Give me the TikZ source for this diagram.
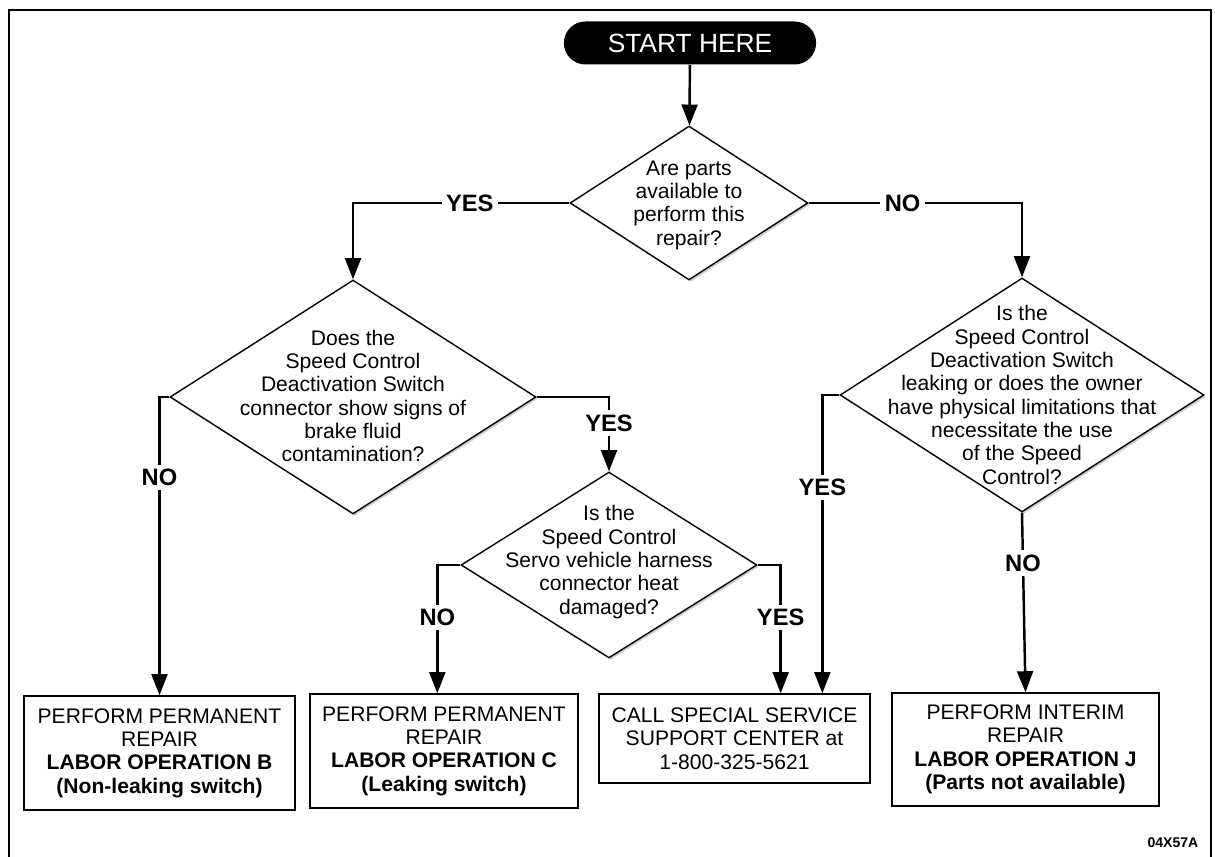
\documentclass[tikz,border=0pt]{standalone}
\usepackage{fontspec}
\setmainfont{Liberation Sans}
\usetikzlibrary{arrows.meta,shapes.geometric,shapes.misc,shadows}
\tikzset{
  decision/.style={diamond, draw, line width=0.8pt, fill=white, inner sep=0pt,
    drop shadow={shadow xshift=1.1pt, shadow yshift=-1.1pt, fill=gray!75}},
  qtext/.style={align=center, inner sep=0pt, font=\fontsize{12}{13.3}\selectfont},
  result/.style={rectangle, draw, line width=0.8pt, fill=white, align=center, inner sep=0pt,
    font=\fontsize{12}{13.3}\selectfont,
    drop shadow={shadow xshift=0.8pt, shadow yshift=-0.8pt, fill=gray!75}},
  flow/.style={line width=1.4pt, -{Triangle[length=12pt,width=9pt]}},
  answer/.style={fill=white, inner sep=2.5pt, font=\fontsize{13.5}{14}\selectfont\bfseries}
}
\begin{document}
\begin{tikzpicture}[x=0.02cm, y=-0.02cm]
        \useasboundingbox (0,0) rectangle (1215,857);
        \draw[line width=0.6pt] (9,857) -- (9,10) -- (1211,10) -- (1211,857);

        \node[rounded rectangle, fill=black, text=white, minimum width=5.28cm, minimum height=0.86cm,
              font=\fontsize{15}{16}\selectfont] (start) at (690,43) {START HERE};

        \node[decision, minimum width=4.76cm, minimum height=3.08cm] (parts) at (689,203) {};
        \node[qtext] (partstxt) at (689,205) {Are parts\\available to\\perform this\\repair?};

        \node[decision, minimum width=7.32cm, minimum height=4.68cm] (fluid) at (353,397) {};
        \node[qtext] (fluidtxt) at (353,396) {Does the\\Speed Control\\Deactivation Switch\\connector show signs of\\brake fluid\\contamination?};

        \node[decision, minimum width=7.28cm, minimum height=4.68cm] (leak) at (1022,395) {};
        \node[qtext] (leaktxt) at (1022,395) {Is the\\Speed Control\\Deactivation Switch\\leaking or does the owner\\have physical limitations that\\necessitate the use\\of the Speed\\Control?};

        \node[decision, minimum width=5.92cm, minimum height=3.72cm] (servo) at (609,565) {};
        \node[qtext] (servotxt) at (609,562) {Is the\\Speed Control\\Servo vehicle harness\\connector heat\\damaged?};

        \node[result, minimum width=5.42cm, minimum height=2.28cm] (opB) at (159.5,753)
              {PERFORM PERMANENT\\REPAIR\\\textbf{LABOR OPERATION B}\\\textbf{(Non-leaking switch)}};
        \node[result, minimum width=5.36cm, minimum height=2.28cm] (opC) at (444,751)
              {PERFORM PERMANENT\\REPAIR\\\textbf{LABOR OPERATION C}\\\textbf{(Leaking switch)}};
        \node[result, minimum width=5.42cm, minimum height=1.78cm] (call) at (734.5,738.5)
              {CALL SPECIAL SERVICE\\SUPPORT CENTER at\\1-800-325-5621};
        \node[result, minimum width=5.34cm, minimum height=2.26cm] (opJ) at (1025.5,749.5)
              {PERFORM INTERIM\\REPAIR\\\textbf{LABOR OPERATION J}\\\textbf{(Parts not available)}};

        \node[font=\fontsize{8}{9}\selectfont\bfseries] (figid) at (1173,843) {04X57A};

        \draw[flow] (start) -- (parts);
        \draw[flow] (parts.west) -- node[answer, pos=0.46] {YES} (parts.west -| fluid.north) -- (fluid.north);
        \draw[flow] (parts.east) -- node[answer, pos=0.44] {NO} (parts.east -| leak.north) -- (leak.north);
        \draw[flow] (fluid.west) -- (fluid.west -| opB.north) -- node[answer, pos=0.27] {NO} (opB.north);
        \draw[flow] (fluid.east) -- (fluid.east -| servo.north) -- node[answer, pos=0.35] {YES} (servo.north);
        \coordinate (servoNo) at ([xshift=-0.46cm]servo.west);
        \coordinate (servoYes) at ([xshift=0.46cm]servo.east);
        \coordinate (leakYes) at ([xshift=-0.34cm]leak.west);
        \draw[flow] (servo.west) -- (servoNo) -- node[answer, pos=0.41] {NO} (servoNo |- opC.north);
        \draw[flow] (servo.east) -- (servoYes) -- node[answer, pos=0.41] {YES} (servoYes |- call.north);
        \draw[flow] (leak.west) -- (leakYes) -- node[answer, pos=0.31] {YES} (leakYes |- call.north);
        \draw[flow] (leak.south) -- node[answer, pos=0.28] {NO} (opJ.north);
      \end{tikzpicture}
\end{document}
